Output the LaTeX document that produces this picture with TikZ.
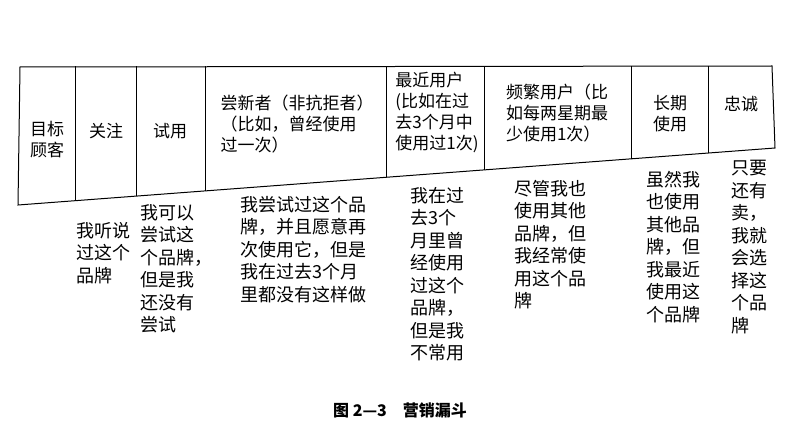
\documentclass[tikz,border=0pt]{standalone}
\usepackage{fontspec}
\setmainfont{Noto Sans CJK SC}
\begin{document}
\begin{tikzpicture}[x=1pt,y=-1pt,
  hd/.style={font=\fontsize{17}{21}\selectfont,align=center,inner sep=0},
  hl/.style={font=\fontsize{17}{21}\selectfont,align=left,inner sep=0},
  bd/.style={font=\fontsize{18}{22.5}\selectfont,align=left,anchor=north west,inner sep=0}]
\useasboundingbox (0,0) rectangle (800,433);
\coordinate (tl) at (20,67); \coordinate (tr) at (772,66);
\coordinate (bl) at (18,205); \coordinate (br) at (775,148);
\draw[line width=1pt] (tl) -- (tr) -- (br) -- (bl) -- cycle;
\foreach \x in {75,136,205,386,484,631,708}{
  \draw[line width=0.9pt] (\x,66.5) -- (\x,{205-(\x-18)*0.0753});}
\node[hd] (h1) at (47,140) {目标\\顾客};
\node[hd] (h2) at (106,131) {关注};
\node[hd] (h3) at (170,131) {试用};
\node[hl] (h4) at (297,124) {尝新者（非抗拒者）\\（比如，曾经使用\\过一次）};
\node[hl] (h5) at (437,112) {最近用户\\(比如在过\\去3个月中\\使用过1次)};
\node[hl] (h6) at (557,113) {频繁用户（比\\如每两星期最\\少使用1次）};
\node[hd] (h7) at (670,114) {长期\\使用};
\node[hd] (h8) at (741,104) {忠诚};
\node[bd] (b1) at (76,222) {我听说\\过这个\\品牌};
\node[bd] (b2) at (140,204) {我可以\\尝试这\\个品牌，\\但是我\\还没有\\尝试};
\node[bd] (b3) at (240,196) {我尝试过这个品\\牌，并且愿意再\\次使用它，但是\\我在过去3个月\\里都没有这样做};
\node[bd] (b4) at (410,187) {我在过\\去3个\\月里曾\\经使用\\过这个\\品牌，\\但是我\\不常用};
\node[bd] (b5) at (514,180) {尽管我也\\使用其他\\品牌，但\\我经常使\\用这个品\\牌};
\node[bd] (b6) at (646,171) {虽然我\\也使用\\其他品\\牌，但\\我最近\\使用这\\个品牌};
\node[bd] (b7) at (731,160) {只要\\还有\\卖，\\我就\\会选\\择这\\个品\\牌};
\node[font=\fontsize{16}{18}\selectfont\bfseries] (cap) at (400,410) {图 2—3\quad 营销漏斗};
\end{tikzpicture}
\end{document}
